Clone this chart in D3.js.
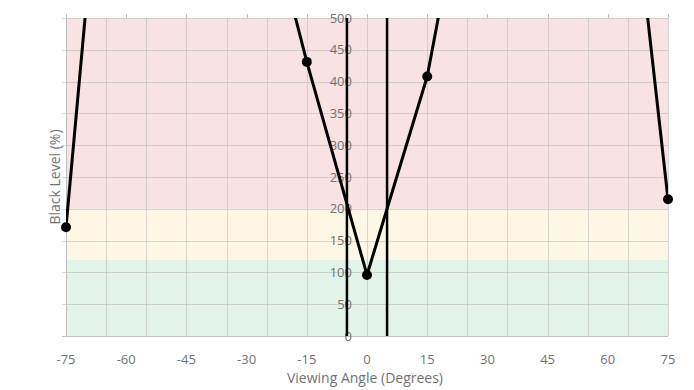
<!DOCTYPE html>
<html>
<head>
<meta charset="utf-8">
<script src="https://cdn.jsdelivr.net/npm/d3@7"></script>
<style>
  body { margin: 0; background: #fff; }
  text { font-family: "Open Sans", sans-serif; }
</style>
</head>
<body>
<div id="chart"></div>
<script>
// measured viewing angles (degrees) and black level (%)
const angles = [-75, -60, -45, -30, -15, 0, 15, 30, 45, 60, 75];
const blackLevel = [171, 1210, 1100, 800, 431, 96, 408, 910, 1100, 1060, 215];

// reference lines at +/- 5 degrees
const refAngles = [-5, 5];

// colour zones (black level %)
const zones = [
    { from: 0, to: 120, color: "#e2f3e9" },
    { from: 120, to: 200, color: "#fef7e5" },
    { from: 200, to: 500, color: "#f8e2e3" }
];

const xTicks = [-75, -60, -45, -30, -15, 0, 15, 30, 45, 60, 75];
const yTicks = [0, 50, 100, 150, 200, 250, 300, 350, 400, 450, 500];
// vertical grid every 10 degrees from -75, plus the axis at 0
const xGrid = d3.range(-75, 76, 10).concat([0]);

const width = 694, height = 390;
const x = d3.scaleLinear().domain([-75, 75]).range([66, 668]);
const y = d3.scaleLinear().domain([0, 500]).range([336, 18]);

const svg = d3.select("#chart").append("svg")
    .attr("width", width)
    .attr("height", height);

svg.append("defs").append("clipPath")
    .attr("id", "plot")
    .append("rect")
    .attr("x", x(-75)).attr("y", y(500))
    .attr("width", x(75) - x(-75)).attr("height", y(0) - y(500));

// zones
svg.append("g")
    .selectAll("rect")
    .data(zones)
    .enter()
    .append("rect")
    .attr("x", x(-75))
    .attr("width", x(75) - x(-75))
    .attr("y", d => y(d.to))
    .attr("height", d => y(d.from) - y(d.to))
    .attr("fill", d => d.color);

// grid
const grid = svg.append("g").attr("stroke", "#bdbdbd").attr("stroke-opacity", 0.6).attr("stroke-width", 1);
grid.selectAll(".gx")
    .data(xGrid)
    .enter()
    .append("line")
    .attr("x1", d => Math.round(x(d)) + 0.5).attr("x2", d => Math.round(x(d)) + 0.5)
    .attr("y1", y(500)).attr("y2", y(0));
grid.selectAll(".gy")
    .data(yTicks)
    .enter()
    .append("line")
    .attr("x1", x(-75) - 4).attr("x2", x(75))
    .attr("y1", d => Math.round(y(d)) + 0.5).attr("y2", d => Math.round(y(d)) + 0.5);

// left edge and top tick marks
const axisCol = "#bfbfbf";
svg.append("line")
    .attr("x1", x(-75) + 0.5).attr("x2", x(-75) + 0.5)
    .attr("y1", y(500)).attr("y2", y(0))
    .attr("stroke", axisCol);
svg.append("g")
    .selectAll("line")
    .data(xTicks)
    .enter()
    .append("line")
    .attr("x1", d => Math.round(x(d)) + 0.5).attr("x2", d => Math.round(x(d)) + 0.5)
    .attr("y1", y(500) - 4).attr("y2", y(500))
    .attr("stroke", axisCol);
svg.append("line")
    .attr("x1", x(-75) - 4).attr("x2", x(75))
    .attr("y1", Math.round(y(0)) + 0.5).attr("y2", Math.round(y(0)) + 0.5)
    .attr("stroke", axisCol);

// tick labels
svg.append("g")
    .selectAll("text")
    .data(xTicks)
    .enter()
    .append("text")
    .attr("x", d => x(d))
    .attr("y", 364)
    .attr("text-anchor", "middle")
    .attr("font-size", 13)
    .attr("fill", "#727272")
    .text(d => d);

svg.append("g")
    .selectAll("text")
    .data(yTicks)
    .enter()
    .append("text")
    .attr("x", x(0) - 15)
    .attr("y", d => y(d) + 4.5)
    .attr("text-anchor", "end")
    .attr("font-size", 13)
    .attr("fill", "#727272")
    .text(d => d);

// axis titles
svg.append("text")
    .attr("x", x(0) - 2)
    .attr("y", 383)
    .attr("text-anchor", "middle")
    .attr("font-size", 14)
    .attr("fill", "#727272")
    .text("Viewing Angle (Degrees)");

svg.append("text")
    .attr("transform", "translate(60,177) rotate(-90)")
    .attr("text-anchor", "middle")
    .attr("font-size", 14)
    .attr("fill", "#727272")
    .text("Black Level (%)");

// reference lines
svg.append("g")
    .selectAll("line")
    .data(refAngles)
    .enter()
    .append("line")
    .attr("x1", d => x(d)).attr("x2", d => x(d))
    .attr("y1", y(0)).attr("y2", y(500))
    .attr("stroke", "#000")
    .attr("stroke-width", 2.5);

// data line
const pts = angles.map((a, i) => ({ a: a, v: blackLevel[i] }));
const line = d3.line().x(d => x(d.a)).y(d => y(d.v));

svg.append("path")
    .datum(pts)
    .attr("clip-path", "url(#plot)")
    .attr("d", line)
    .attr("fill", "none")
    .attr("stroke", "#000")
    .attr("stroke-width", 3)
    .attr("stroke-linejoin", "round");

svg.append("g")
    .selectAll("circle")
    .data(pts.filter(d => d.v >= 0 && d.v <= 500))
    .enter()
    .append("circle")
    .attr("cx", d => x(d.a))
    .attr("cy", d => y(d.v))
    .attr("r", 5)
    .attr("fill", "#000");
</script>
</body>
</html>
